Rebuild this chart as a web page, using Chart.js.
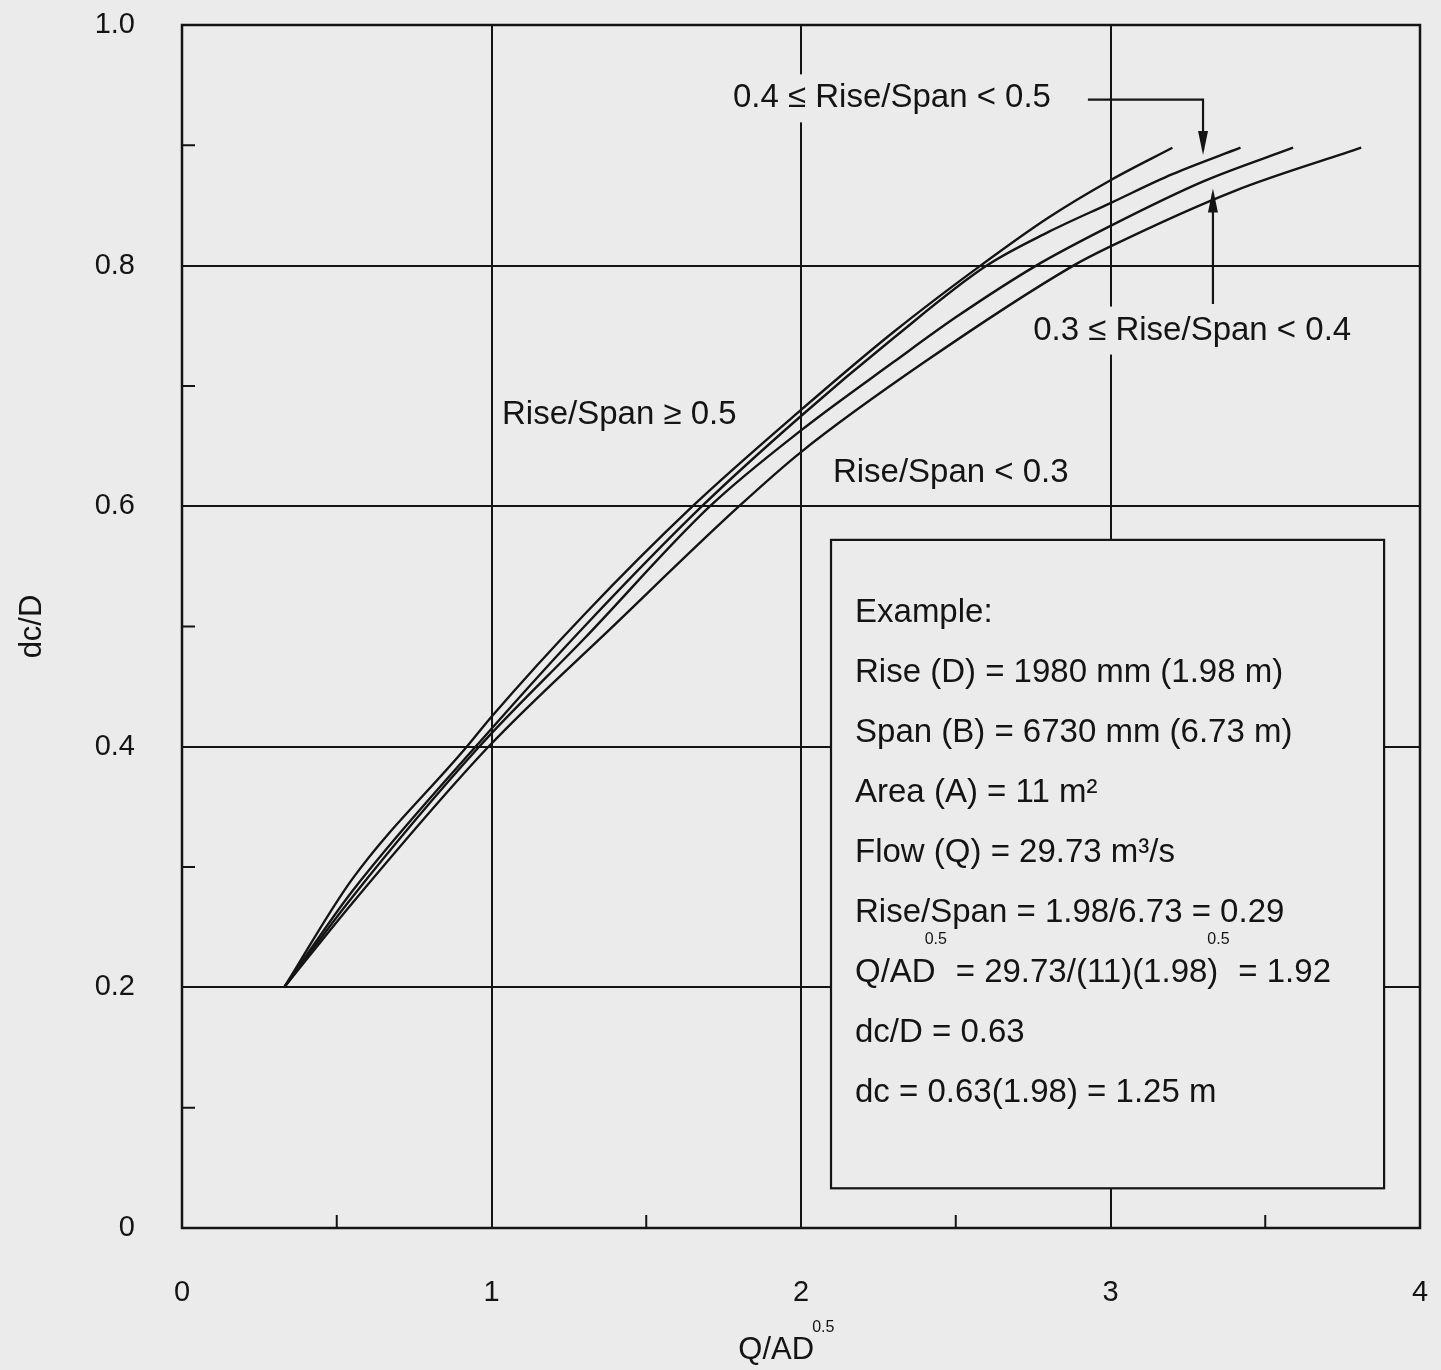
<!DOCTYPE html>
<html>
<head>
<meta charset="utf-8">
<title>dc/D vs Q/AD^0.5</title>
<script src="https://cdn.jsdelivr.net/npm/chart.js@4.4.1/dist/chart.umd.min.js"></script>
<style>
  html, body { margin: 0; padding: 0; background: #ebebeb; }
  #wrap { width: 1441px; height: 1370px; }
  canvas { display: block; background: #ebebeb; }
</style>
</head>
<body>
<div id="wrap"><canvas id="depthChart" width="1441" height="1370"></canvas></div>
<script>
// curve values (x = Q/AD^0.5, y = dc/D)
const seriesNames = ['Rise/Span ≥ 0.5', '0.4 ≤ Rise/Span < 0.5', '0.3 ≤ Rise/Span < 0.4', 'Rise/Span < 0.3'];

const rs50X = [0.33, 0.55, 0.92, 1.0, 1.3, 1.65, 2.0, 2.3, 2.58, 2.8, 3.0, 3.2];
const rs50Y = [0.20, 0.29, 0.40, 0.425, 0.51, 0.60, 0.68, 0.745, 0.80, 0.84, 0.871, 0.898];

const rs40X = [0.33, 0.55, 1.0, 1.3, 1.68, 2.0, 2.3, 2.6, 2.8, 3.0, 3.2, 3.42];
const rs40Y = [0.20, 0.28, 0.415, 0.50, 0.60, 0.675, 0.74, 0.80, 0.828, 0.852, 0.876, 0.898];

const rs30X = [0.33, 0.55, 0.96, 1.3, 1.706, 2.0, 2.3, 2.5, 2.76, 3.0, 3.3, 3.59];
const rs30Y = [0.20, 0.275, 0.40, 0.49, 0.60, 0.663, 0.72, 0.757, 0.80, 0.833, 0.87, 0.898];

const rsLowX = [0.33, 0.55, 0.99, 1.4, 1.8, 2.0, 2.4, 2.88, 3.0, 3.4, 3.81];
const rsLowY = [0.20, 0.27, 0.40, 0.502, 0.60, 0.645, 0.72, 0.80, 0.816, 0.862, 0.898];

const xTicks = [0, 1, 2, 3, 4];
const yTicks = [0, 0.2, 0.4, 0.6, 0.8, 1.0];
const xMinorTicks = [0.5, 1.5, 2.5, 3.5];
const yMinorTicks = [0.1, 0.3, 0.5, 0.7, 0.9];

const exampleLines = [
  'Example:',
  'Rise (D) = 1980 mm (1.98 m)',
  'Span (B) = 6730 mm (6.73 m)',
  'Area (A) = 11 m²',
  'Flow (Q) = 29.73 m³/s',
  'Rise/Span = 1.98/6.73 = 0.29',
  [['Q/AD', '0.5'], ['= 29.73/(11)(1.98)', '0.5'], ['= 1.92', '']],
  'dc/D = 0.63',
  'dc = 0.63(1.98) = 1.25 m'
];

const ink = '#141414';
const paper = '#ebebeb';
const family = '"Liberation Sans", Arial, Helvetica, sans-serif';

Chart.defaults.font.family = family;
Chart.defaults.color = ink;

const seriesX = [rs50X, rs40X, rs30X, rsLowX];
const seriesY = [rs50Y, rs40Y, rs30Y, rsLowY];

function toPoints(xs, ys) {
  return xs.map((x, i) => ({ x: x, y: ys[i] }));
}

function arrowHead(ctx, tipX, tipY, dir) {
  // dir: 1 = pointing down, -1 = pointing up
  ctx.beginPath();
  ctx.moveTo(tipX, tipY);
  ctx.lineTo(tipX - 5, tipY - dir * 24);
  ctx.lineTo(tipX + 5, tipY - dir * 24);
  ctx.closePath();
  ctx.fill();
}

const annotate = {
  id: 'annotate',
  afterDatasetsDraw(chart) {
    const { ctx, chartArea: a, scales: { x, y } } = chart;
    const px = v => x.getPixelForValue(v);
    const py = v => y.getPixelForValue(v);
    ctx.save();
    ctx.strokeStyle = ink;
    ctx.fillStyle = ink;
    ctx.lineCap = 'butt';

    // minor ticks, pointing inward
    ctx.lineWidth = 2;
    ctx.beginPath();
    xMinorTicks.forEach(v => { ctx.moveTo(px(v), a.bottom); ctx.lineTo(px(v), a.bottom - 13); });
    yMinorTicks.forEach(v => { ctx.moveTo(a.left, py(v)); ctx.lineTo(a.left + 13, py(v)); });
    ctx.stroke();

    // frame
    ctx.lineWidth = 2.5;
    ctx.strokeRect(a.left, a.top, a.width, a.height);

    // example box
    const bx0 = px(2.097), bx1 = px(3.884), by0 = py(0.572), by1 = py(0.033);
    ctx.fillStyle = paper;
    ctx.fillRect(bx0, by0, bx1 - bx0, by1 - by0);
    ctx.lineWidth = 2.2;
    ctx.strokeRect(bx0, by0, bx1 - bx0, by1 - by0);

    ctx.fillStyle = ink;
    ctx.textBaseline = 'middle';
    ctx.textAlign = 'left';
    const big = '33px ' + family;
    const small = '16px ' + family;
    const tx = bx0 + 24;
    exampleLines.forEach((line, i) => {
      const ly = by0 + 73 + i * 60;
      ctx.font = big;
      if (typeof line === 'string') {
        ctx.fillText(line, tx, ly);
        return;
      }
      let cur = tx;
      line.forEach(([text, sup]) => {
        ctx.font = big;
        ctx.fillText(text, cur, ly);
        cur += ctx.measureText(text).width;
        if (sup) {
          ctx.font = small;
          ctx.fillText(sup, cur - 11, ly - 33);
          cur += 20;
        }
      });
    });

    // curve labels
    ctx.font = big;
    const label = (text, vx, vy, masked) => {
      const w = ctx.measureText(text).width;
      if (masked) {
        ctx.fillStyle = paper;
        ctx.fillRect(px(vx) - 4, py(vy) - 24, w + 8, 48);
        ctx.fillStyle = ink;
      }
      ctx.fillText(text, px(vx), py(vy));
    };
    label(seriesNames[1], 1.780, 0.939, true);
    label(seriesNames[2], 2.750, 0.746, true);
    label(seriesNames[0], 1.034, 0.676, false);
    label(seriesNames[3], 2.103, 0.628, false);

    // leader arrows
    ctx.lineWidth = 2.2;
    ctx.beginPath();
    ctx.moveTo(px(2.927), py(0.938));
    ctx.lineTo(px(3.299), py(0.938));
    ctx.lineTo(px(3.299), py(0.896));
    ctx.moveTo(px(3.331), py(0.768));
    ctx.lineTo(px(3.331), py(0.86));
    ctx.stroke();
    arrowHead(ctx, px(3.299), py(0.892), 1);
    arrowHead(ctx, px(3.331), py(0.864), -1);

    // axis titles
    ctx.font = '31px ' + family;
    ctx.textAlign = 'center';
    ctx.fillText('Q/AD', px(1.92), a.bottom + 122);
    const tw = ctx.measureText('Q/AD').width;
    ctx.font = small;
    ctx.textAlign = 'left';
    ctx.fillText('0.5', px(1.92) + tw / 2 - 2, a.bottom + 100);

    ctx.font = '31px ' + family;
    ctx.textAlign = 'center';
    ctx.translate(32, py(0.5));
    ctx.rotate(-Math.PI / 2);
    ctx.fillText('dc/D', 0, 0);
    ctx.restore();
  }
};

const ctx = document.getElementById('depthChart').getContext('2d');

const depthChart = new Chart(ctx, {
  type: 'line',
  data: {
    datasets: seriesNames.map((name, i) => ({
      label: name,
      data: toPoints(seriesX[i], seriesY[i]),
      borderColor: ink,
      borderWidth: 2.4,
      pointRadius: 0,
      fill: false,
      cubicInterpolationMode: 'monotone'
    }))
  },
  options: {
    responsive: false,
    animation: false,
    layout: { padding: { top: 25, right: 21, left: 0, bottom: 0 } },
    plugins: {
      legend: { display: false },
      tooltip: { enabled: false }
    },
    scales: {
      x: {
        type: 'linear',
        min: 0,
        max: 4,
        afterBuildTicks: s => { s.ticks = xTicks.map(v => ({ value: v })); },
        afterFit: s => { s.height = 142; s.paddingLeft = 0; s.paddingRight = 0; },
        grid: { color: ink, lineWidth: 2, drawTicks: false },
        border: { display: false },
        ticks: { padding: 48, font: { size: 29 }, callback: v => String(v) }
      },
      y: {
        type: 'linear',
        min: 0,
        max: 1,
        afterBuildTicks: s => { s.ticks = yTicks.map(v => ({ value: v })); },
        afterFit: s => { s.width = 182; s.paddingTop = 0; s.paddingBottom = 0; },
        grid: { color: ink, lineWidth: 2, drawTicks: false },
        border: { display: false },
        ticks: { padding: 47, font: { size: 29 }, callback: v => (v === 0 ? '0' : v.toFixed(1)) }
      }
    }
  },
  plugins: [annotate]
});
</script>
</body>
</html>
